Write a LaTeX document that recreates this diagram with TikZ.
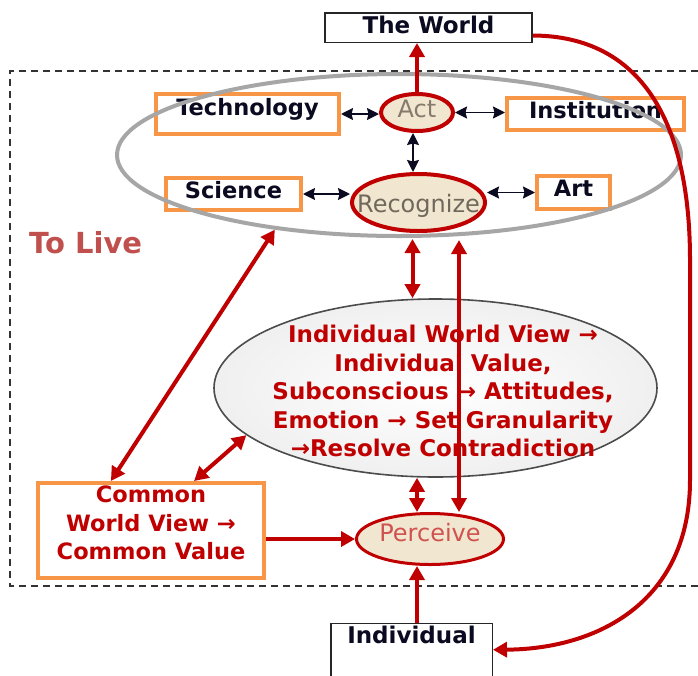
\documentclass[tikz,border=0pt]{standalone}
\usepackage{fontspec}
\setmainfont{DejaVu Sans}
\usetikzlibrary{shapes.geometric, arrows.meta}
\definecolor{darkred}{HTML}{C00000}
\definecolor{boxorange}{HTML}{F79646}
\definecolor{ringgray}{HTML}{A6A6A6}
\definecolor{beige}{HTML}{F1E6CF}
\definecolor{livered}{HTML}{C0504D}
\definecolor{percred}{HTML}{D0524E}
\definecolor{actgray}{HTML}{857A6C}
\definecolor{ink}{HTML}{0A0A20}

\begin{document}
\begin{tikzpicture}[x=1pt, y=-1pt,
  orangebox/.style={draw=boxorange, line width=4pt, fill=white, inner sep=0pt,
    font=\fontsize{22.5}{27}\selectfont\bfseries, text=ink},
  plainbox/.style={draw=black!85, line width=1.5pt, fill=white, inner sep=0pt,
    font=\fontsize{23}{27}\selectfont\bfseries, text=ink},
  core/.style={ellipse, draw=darkred, fill=beige, inner sep=0pt},
  corelabel/.style={font=\fontsize{24}{28}\selectfont, inner sep=0pt},
  redline/.style={draw=darkred, line width=4pt},
  redto/.style={redline, -{Triangle[length=14pt,width=15pt]}},
  redboth/.style={redline, {Triangle[length=14pt,width=15pt]}-{Triangle[length=14pt,width=15pt]}},
  blackboth/.style={draw=ink, line width=1.8pt,
    {Stealth[length=12pt,width=12pt,inset=1.5pt]}-{Stealth[length=12pt,width=12pt,inset=1.5pt]}},
]
\path[use as bounding box] (0,0) rectangle (698,675);
\clip (0,0) rectangle (698,675);
\fill[white] (0,0) rectangle (698,675);

% dashed frame of the living process
\draw[draw=black!80, line width=1.4pt, dash pattern=on 7pt off 5pt]
  (710,71) -- (10,71) -- (10,586) -- (710,586);

\node (tolive) [anchor=base west, text=livered, inner sep=0pt,
  font=\fontsize{29}{32}\selectfont\bfseries] at (29,253) {To Live};

% domains around acting and recognizing
\node (tech) [orangebox, minimum width=183pt, minimum height=40pt, text depth=15pt] at (247.5,114) {Technology};
\node (inst) [orangebox, minimum width=177pt, minimum height=32pt, text depth=9pt] at (595.5,114) {Institution};
\node (sci)  [orangebox, minimum width=135pt, minimum height=32pt, text depth=9pt] at (233.5,194) {Science};
\node (art)  [orangebox, minimum width=73pt, minimum height=33pt, text depth=8pt] at (573.5,192.5) {Art};

\node (life) [ellipse, draw=ringgray, line width=4pt, minimum width=564pt, minimum height=162pt] at (399,155) {};

\node (act) [core, line width=4pt, minimum width=72pt, minimum height=37pt,
  label={[corelabel, text=actgray, yshift=3.5pt]center:Act}] at (417,112.5) {};
\node (recognize) [core, line width=4pt, minimum width=133pt, minimum height=57pt,
  label={[corelabel, text=actgray!85!black, yshift=-3.5pt]center:Recognize}] at (418.5,202.5) {};

% individual world view
\node (view) [ellipse, draw=black!70, line width=1.6pt, inner color=white, outer color=black!6,
  minimum width=443pt, minimum height=178pt] at (435.5,388) {};
\node (viewtext) [align=center, text=darkred, inner sep=0pt,
  font=\fontsize{23}{28.5}\selectfont\bfseries] at (443,391)
  {Individual World View →\\Individual Value,\\Subconscious → Attitudes,\\Emotion → Set Granularity\\→Resolve Contradiction};

\node (common) [orangebox, minimum width=226pt, minimum height=95pt] at (151,530.5) {};
\node (commontext) [align=center, text=darkred, inner sep=0pt,
  font=\fontsize{22.5}{28.5}\selectfont\bfseries] at (151,523)
  {Common\\World View →\\Common Value};

\node (perceive) [core, line width=3pt, minimum width=147pt, minimum height=51pt,
  label={[corelabel, text=percred, yshift=6pt]center:Perceive}] at (430,539) {};

\node (world) [plainbox, minimum width=207pt, minimum height=29.5pt, text depth=6pt] at (428.5,27.5) {The World};
\node (individual) [plainbox, anchor=north, minimum width=161.5pt, minimum height=80pt, text depth=57pt] at (411.5,622.75) {Individual};

% black links inside the ring
\draw[blackboth] (tech.east) -- (tech.east -| act.west);
\draw[blackboth] (act.east) -- (act.east -| inst.west);
\draw[blackboth] ([xshift=-4pt]act.south) -- ([xshift=-4pt]act.south |- recognize.north);
\draw[blackboth] (sci.east) -- (sci.east -| recognize.west);
\draw[blackboth] (art.west -| recognize.east) -- (art.west);

% red links
\draw[redto] (act.north) -- (act.north |- world.south);
\draw[redboth] (common.129) -- (life.211);
\draw[redboth] (common.49) -- (view.194);
\draw[redboth, shorten <=6pt] ([xshift=-6pt]recognize.south) -- ([xshift=-6pt]recognize.south |- view.north);
\draw[redboth, shorten <=7pt] ([xshift=40.5pt]recognize.south) -- ([xshift=40.5pt]recognize.south |- perceive.north);
\draw[redboth] ([xshift=-13pt]perceive.north |- view.south) -- ([xshift=-13pt]perceive.north);
\draw[redto] (common.east |- perceive.west) -- (perceive.west);
\draw[redto] ([xshift=5.5pt]individual.north) -- ([xshift=5.5pt]individual.north |- perceive.south);
\draw[redto] ([yshift=-8pt]world.east) .. controls (640,36) and (690,120) .. (690,260)
  -- (690,480) .. controls (690,600) and (600,649) .. ([yshift=-27pt]individual.north east);
\end{tikzpicture}
\end{document}
